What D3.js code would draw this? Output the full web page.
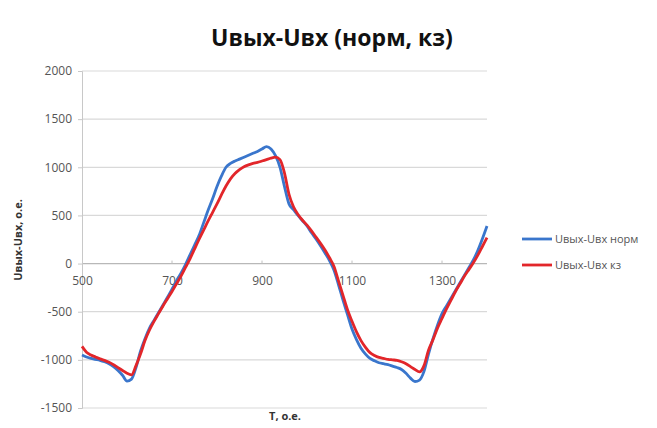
<!DOCTYPE html>
<html><head><meta charset="utf-8">
<script src="https://cdn.jsdelivr.net/npm/d3@7"></script>
<style>body{margin:0;background:#fff;}svg{display:block;}</style>
</head><body>
<script>
const title = "Uвых-Uвх (норм, кз)";
const yTitle = "Uвых-Uвх, о.е.";
const xTitle = "T, о.е.";
const seriesNames = ["Uвых-Uвх норм", "Uвых-Uвх кз"];
const seriesColors = ["#3a76cc", "#e2262a"];
const xTicks = [500, 700, 900, 1100, 1300];
const yTicks = [-1500, -1000, -500, 0, 500, 1000, 1500, 2000];
const T = [500,510,520,530,540,550,560,570,580,590,600,610,620,630,640,650,660,670,680,690,
700,710,720,730,740,750,760,770,780,790,800,810,820,830,840,850,860,870,880,890,
900,910,920,930,940,950,960,970,980,990,1000,1010,1020,1030,1040,1050,1060,1070,1080,1090,
1100,1110,1120,1130,1140,1150,1160,1170,1180,1190,1200,1210,1220,1230,1240,1250,1260,1270,1280,1290,
1300,1310,1320,1330,1340,1350,1360,1370,1380,1390,1400];
const norm = [-950,-970,-985,-995,-1005,-1020,-1040,-1070,-1110,-1160,-1220,-1200,-1080,-910,-780,-670,-590,-510,-430,-350,
-265,-180,-100,-10,90,190,290,420,550,670,800,910,1000,1040,1065,1085,1105,1125,1145,1165,
1190,1215,1190,1120,1000,800,620,560,500,445,390,320,255,185,110,30,-70,-220,-380,-530,
-680,-790,-880,-940,-985,-1010,-1030,-1040,-1050,-1065,-1080,-1100,-1140,-1190,-1225,-1210,-1120,-940,-780,-640,
-520,-440,-360,-280,-200,-120,-40,40,140,260,390];
const kz = [-860,-920,-950,-970,-990,-1005,-1025,-1050,-1080,-1110,-1140,-1155,-1060,-940,-800,-690,-600,-520,-440,-365,
-290,-210,-130,-40,50,150,250,345,440,530,620,715,805,880,935,975,1005,1025,1040,1050,
1065,1080,1095,1105,1080,940,720,590,510,450,400,340,275,210,140,60,-30,-180,-330,-480,
-600,-710,-800,-870,-925,-955,-975,-985,-995,-1000,-1005,-1020,-1040,-1070,-1100,-1125,-1060,-900,-790,-670,
-570,-470,-380,-290,-210,-130,-60,10,90,180,270];

const W = 657, H = 428;
const svg = d3.select("body").append("svg").attr("width", W).attr("height", H);
const L = 82, R = 487, Tp = 71, B = 408;
const x = d3.scaleLinear().domain([500, 1400]).range([L, R]);
const y = d3.scaleLinear().domain([-1500, 2000]).range([B, Tp]);
const fmt = d => String(d);

// gridlines
svg.append("g").selectAll("line").data(yTicks).join("line")
  .attr("x1", L).attr("x2", R).attr("y1", d => y(d)).attr("y2", d => y(d))
  .attr("stroke", d => d === 0 ? "#b8b8b8" : "#d9d9d9").attr("stroke-width", 1.2);

// y axis
const yAxis = svg.append("g").attr("transform", `translate(${L},0)`)
  .call(d3.axisLeft(y).tickValues(yTicks).tickSize(4).tickPadding(6).tickFormat(fmt));
yAxis.select(".domain").attr("stroke", "#c8c8c8");
yAxis.selectAll(".tick line").attr("stroke", "#c8c8c8");
yAxis.selectAll("text").attr("font-family", "Open Sans, sans-serif").attr("font-size", 12).attr("fill", "#555");

// x axis at zero
const xAxis = svg.append("g").attr("transform", `translate(0,${y(0)})`)
  .call(d3.axisBottom(x).tickValues(xTicks).tickSize(0).tickPadding(13).tickFormat(fmt));
xAxis.select(".domain").remove();
xAxis.selectAll("text").attr("font-family", "Open Sans, sans-serif").attr("font-size", 12).attr("fill", "#555");
svg.append("g").selectAll("line").data(xTicks.slice(1)).join("line")
  .attr("x1", d => x(d)).attr("x2", d => x(d)).attr("y1", y(0) - 3).attr("y2", y(0))
  .attr("stroke", "#c0c0c0");

// lines
const line = d3.line().x((d, i) => x(T[i])).y(d => y(d)).curve(d3.curveMonotoneX);
[norm, kz].forEach((s, k) => {
  svg.append("path").datum(s).attr("d", line).attr("fill", "none")
    .attr("stroke", seriesColors[k]).attr("stroke-width", 2.8).attr("stroke-linejoin", "round");
});

// title
svg.append("text").attr("x", 332).attr("y", 46).attr("text-anchor", "middle")
  .attr("font-family", "Open Sans, sans-serif").attr("font-weight", "bold").attr("font-size", 23)
  .attr("fill", "#111").text(title);

// axis titles
svg.append("text").attr("transform", `translate(22,240) rotate(-90)`).attr("text-anchor", "middle")
  .attr("font-family", "Open Sans, sans-serif").attr("font-weight", "bold").attr("font-size", 11)
  .attr("fill", "#333").text(yTitle);
svg.append("text").attr("x", 285).attr("y", 420).attr("text-anchor", "middle")
  .attr("font-family", "Open Sans, sans-serif").attr("font-weight", "bold").attr("font-size", 11)
  .attr("fill", "#333").text(xTitle);

// legend
const legY = [239, 265];
seriesNames.forEach((n, k) => {
  svg.append("line").attr("x1", 522).attr("x2", 552).attr("y1", legY[k]).attr("y2", legY[k])
    .attr("stroke", seriesColors[k]).attr("stroke-width", 2.8);
  svg.append("text").attr("x", 555).attr("y", legY[k] + 4)
    .attr("font-family", "Open Sans, sans-serif").attr("font-size", 11).attr("fill", "#555").text(n);
});
</script>
</body></html>
